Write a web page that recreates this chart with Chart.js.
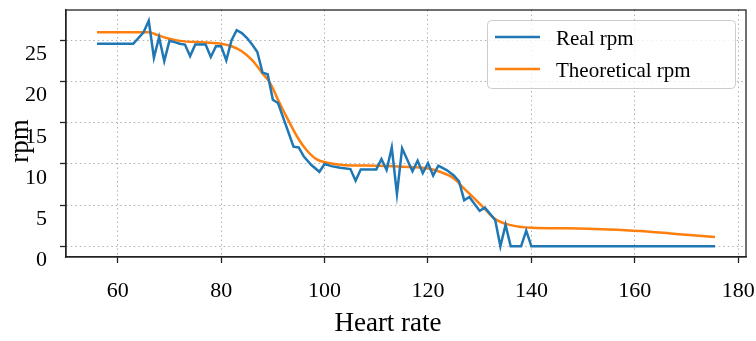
<!DOCTYPE html>
<html>
<head>
    <title>Heart rate vs rpm</title>
    <script src="https://cdn.jsdelivr.net/npm/chart.js"></script>
    <style>
        html, body { margin: 0; padding: 0; background: #fff; }
        #wrap { width: 756px; height: 341px; }
    </style>
</head>
<body>
    <div id="wrap"><canvas id="rpmChart" width="756" height="341"></canvas></div>

    <script>
        // measured cadence against heart rate
        const realHr = [56, 63, 65, 66, 67, 68, 69, 70, 71, 72, 73, 74, 75, 77, 78, 79, 80, 81, 82, 83, 84, 85, 86, 87,
            88, 89, 90, 91, 94, 95, 96, 97.4, 99, 100, 101.3, 103, 105, 106, 107, 110, 111, 112, 113, 114, 115,
            117, 118, 119, 120, 121, 122, 123.6, 125, 126, 127, 128, 130, 131, 133, 134, 135, 136, 138, 139, 140, 175.5];
        const realRpm = [24.6, 24.6, 26.0, 27.4, 22.9, 25.4, 22.5, 24.95, 24.8, 24.6, 24.5, 23.1, 24.5, 24.5, 23.0, 24.3, 24.3, 22.6, 25.0, 26.25, 25.9, 25.3, 24.5, 23.6,
            21.1, 20.9, 17.8, 17.4, 12.1, 12.0, 10.9, 9.9, 9.05, 10.0, 9.74, 9.54, 9.38, 7.96, 9.34, 9.34, 10.6, 9.26, 12.0, 6.35, 11.9,
            9.1, 10.4, 8.9, 10.1, 8.6, 9.8, 9.26, 8.6, 7.9, 5.6, 6.0, 4.3, 4.7, 3.2, 0, 2.6, 0, 0, 1.9, 0, 0];

        // model curve
        const theoHr = [56, 66, 67.5, 70, 72, 77, 80, 82, 84, 86, 88, 89.5, 91.3, 93, 95, 96.5, 98.5, 100.5, 104, 108,
            115, 120, 122.3, 125, 127, 129, 130.6, 133, 135.8, 140, 147, 155, 161, 168, 175.5];
        const theoRpm = [26.0, 26.0, 25.7, 25.2, 24.95, 24.75, 24.6, 24.3, 23.7, 22.6, 21.0, 19.8, 17.4, 15.3, 13.0, 11.7, 10.55, 10.15, 9.85, 9.8,
            9.66, 9.45, 9.05, 8.25, 7.0, 5.8, 4.8, 3.3, 2.6, 2.25, 2.18, 2.05, 1.86, 1.5, 1.13];

        const xTicks = [60, 80, 100, 120, 140, 160, 180];
        const yTicks = [0, 5, 10, 15, 20, 25];
        const seriesNames = ['Real rpm', 'Theoretical rpm'];

        const serif = "'Liberation Serif', 'Times New Roman', serif";
        const frameColor = '#222';

        const toPoints = (xs, ys) => xs.map((x, i) => ({x: x, y: ys[i]}));

        // box around the plot area plus axis titles
        const framePlugin = {
            id: 'frame',
            afterDatasetsDraw(chart) {
                const {ctx, chartArea: a} = chart;
                ctx.save();
                ctx.strokeStyle = frameColor;
                ctx.lineWidth = 1.3;
                ctx.strokeRect(a.left, a.top, a.right - a.left, a.bottom - a.top);
                ctx.restore();
            },
            afterDraw(chart) {
                const ctx = chart.ctx;
                ctx.save();
                ctx.fillStyle = '#000';
                ctx.font = '27px ' + serif;
                ctx.textAlign = 'center';
                ctx.textBaseline = 'middle';
                ctx.fillText('Heart rate', 388, 324);
                ctx.translate(21, 141);
                ctx.rotate(-Math.PI / 2);
                ctx.fillText('rpm', 0, 0);
                ctx.restore();
            }
        };

        // matplotlib style legend box in the upper right
        const legendPlugin = {
            id: 'boxLegend',
            afterDraw(chart) {
                const ctx = chart.ctx;
                const bx = 487, by = 20, bw = 248, bh = 68;
                ctx.save();
                ctx.fillStyle = 'rgba(255,255,255,0.8)';
                ctx.strokeStyle = '#cccccc';
                ctx.lineWidth = 1;
                ctx.beginPath();
                ctx.roundRect(bx + 0.5, by + 0.5, bw, bh, 4);
                ctx.fill();
                ctx.stroke();
                ctx.font = '21px ' + serif;
                ctx.textBaseline = 'middle';
                chart.data.datasets.forEach((ds, i) => {
                    const y = 37 + i * 32;
                    ctx.strokeStyle = ds.borderColor;
                    ctx.lineWidth = 2.5;
                    ctx.beginPath();
                    ctx.moveTo(495, y);
                    ctx.lineTo(540, y);
                    ctx.stroke();
                    ctx.fillStyle = '#000';
                    ctx.fillText(ds.label, 556, y + 2);
                });
                ctx.restore();
            }
        };

        const gridOpts = {
            color: '#b0b0b0',
            lineWidth: 1,
            tickLength: 6,
            tickColor: frameColor,
            tickWidth: 1.3
        };

        new Chart(document.getElementById('rpmChart'), {
            type: 'line',
            data: {
                datasets: [{
                    label: seriesNames[0],
                    data: toPoints(realHr, realRpm),
                    borderColor: '#1f77b4',
                    borderWidth: 2.5,
                    pointRadius: 0,
                    tension: 0,
                    fill: false
                }, {
                    label: seriesNames[1],
                    data: toPoints(theoHr, theoRpm),
                    borderColor: '#ff7f0e',
                    borderWidth: 2.5,
                    pointRadius: 0,
                    cubicInterpolationMode: 'monotone',
                    fill: false
                }]
            },
            options: {
                responsive: false,
                animation: false,
                layout: { padding: { left: 0, top: 10, right: 10, bottom: 0 } },
                plugins: {
                    legend: { display: false },
                    tooltip: { enabled: false }
                },
                scales: {
                    x: {
                        type: 'linear',
                        min: 50,
                        max: 181.5,
                        afterBuildTicks: (scale) => { scale.ticks = xTicks.map(v => ({value: v})); },
                        afterFit: (scale) => {
                            scale.height = 84;
                            scale.paddingLeft = 0;
                            scale.paddingRight = 0;
                        },
                        grid: gridOpts,
                        border: { color: frameColor, width: 1.3, dash: [1.5, 3] },
                        ticks: {
                            color: '#000',
                            font: { family: serif, size: 22 },
                            padding: 15,
                            maxRotation: 0
                        }
                    },
                    y: {
                        min: -1.3,
                        max: 28.7,
                        afterBuildTicks: (scale) => { scale.ticks = yTicks.map(v => ({value: v})); },
                        afterFit: (scale) => {
                            scale.width = 66;
                            scale.paddingTop = 0;
                            scale.paddingBottom = 0;
                        },
                        grid: gridOpts,
                        border: { color: frameColor, width: 1.3, dash: [1.5, 3] },
                        ticks: {
                            color: '#000',
                            font: { family: serif, size: 22 },
                            padding: 13,
                            labelOffset: 14
                        }
                    }
                }
            },
            plugins: [framePlugin, legendPlugin]
        });
    </script>
</body>
</html>
